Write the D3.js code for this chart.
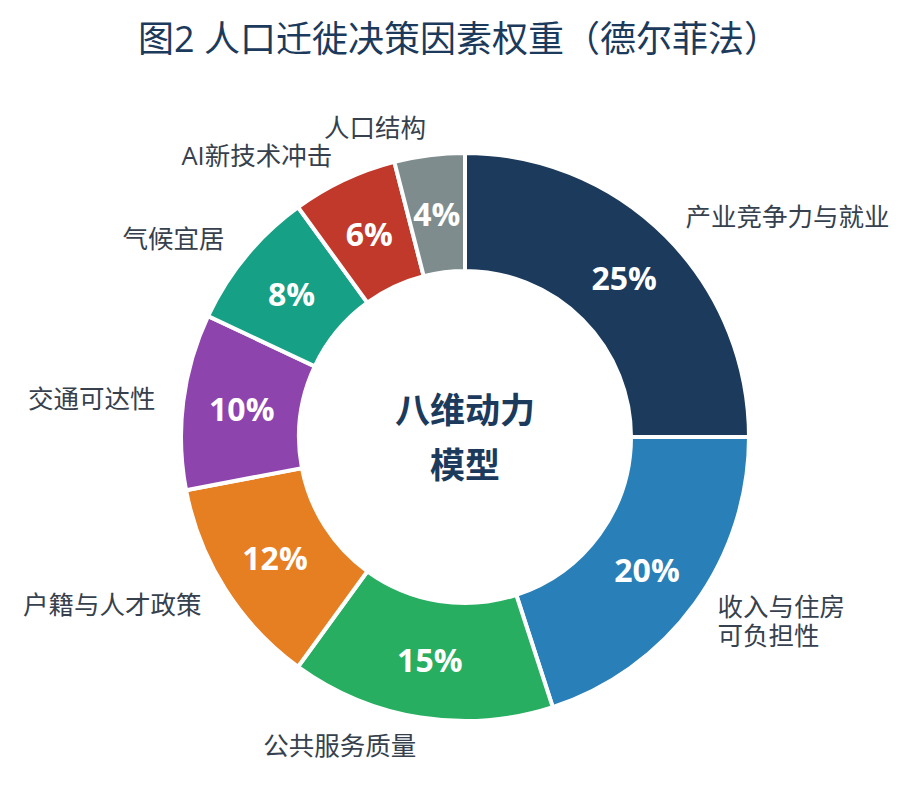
<!DOCTYPE html>
<html><head><meta charset="utf-8">
<script src="https://cdn.jsdelivr.net/npm/d3@7"></script>
<style>body{margin:0;background:#fff;} svg{display:block;}</style>
</head><body>
<svg id="c" width="913" height="812"></svg>
<script>
const categories = ["产业竞争力与就业","收入与住房可负担性","公共服务质量","户籍与人才政策","交通可达性","气候宜居","AI新技术冲击","人口结构"];
const labelLines = [["产业竞争力与就业"],["收入与住房","可负担性"],["公共服务质量"],["户籍与人才政策"],["交通可达性"],["气候宜居"],["AI新技术冲击"],["人口结构"]];
const weights = [25,20,15,12,10,8,6,4];
const colors = ["#1b3a5c","#2980b9","#27ae60","#e67e22","#8e44ad","#16a085","#c0392b","#7f8c8d"];
const titleText = "图2 人口迁徙决策因素权重（德尔菲法）";
const centerLines = ["八维动力","模型"];

const svg = d3.select("#c");
const cx = 465, cy = 437, rOuter = 284, rInner = 166, rLabel = 312;
const latin = "'Open Sans','Noto Sans CJK SC',sans-serif";

svg.append("text").attr("x", 459).attr("y", 42).attr("text-anchor","middle")
  .attr("dominant-baseline","middle")
  .style("font-family", latin).style("font-size","36px").style("fill","#1b3a5c")
  .text(titleText);

const data = categories.map((c,i)=>({name:c, value:weights[i], lines:labelLines[i], color:colors[i]}));
const pie = d3.pie().value(d=>d.value).sort(null);
const arcs = pie(data);
const arc = d3.arc().innerRadius(rInner).outerRadius(rOuter);
const g = svg.append("g").attr("transform",`translate(${cx},${cy})`);

g.selectAll("path").data(arcs).join("path")
  .attr("d", arc).attr("fill", d=>d.data.color)
  .attr("stroke","#fff").attr("stroke-width",4).attr("stroke-linejoin","miter");

g.selectAll("text.pct").data(arcs).join("text").attr("class","pct")
  .attr("transform", d=>`translate(${arc.centroid(d)})`)
  .attr("text-anchor","middle").attr("dominant-baseline","central")
  .style("font-family", latin).style("font-weight","bold").style("font-size","32px").style("fill","#fff")
  .text(d=>d.data.value+"%");

const lab = g.selectAll("g.lab").data(arcs).join("g").attr("class","lab")
  .attr("transform", d=>{const a=(d.startAngle+d.endAngle)/2; return `translate(${rLabel*Math.sin(a)},${-rLabel*Math.cos(a)})`;});
lab.each(function(d){
  const a=(d.startAngle+d.endAngle)/2;
  const n = d.data.lines.length, lh = 29;
  d3.select(this).selectAll("text").data(d.data.lines).join("text")
    .attr("x",0).attr("y",(l,i)=>(i-(n-1)/2)*lh)
    .attr("text-anchor", a<Math.PI?"start":"end").attr("dominant-baseline","central")
    .style("font-family", latin).style("font-size","25.5px").style("fill","#36414d")
    .text(l=>l);
});

svg.append("g").selectAll("text").data(centerLines).join("text")
  .attr("x", cx).attr("y",(d,i)=>407+i*55).attr("text-anchor","middle").attr("dominant-baseline","central")
  .style("font-family","'Noto Sans CJK SC',sans-serif").style("font-weight","bold").style("font-size","35px").style("fill","#1b3a5c")
  .text(d=>d);
</script>
</body></html>
